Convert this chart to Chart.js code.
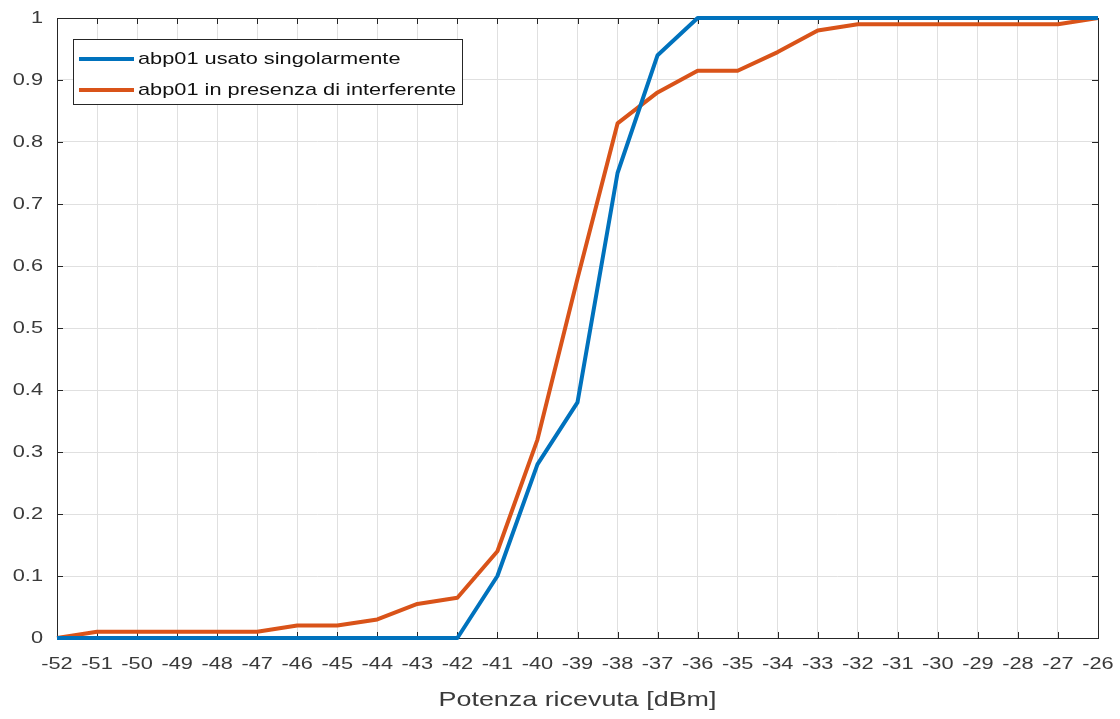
<!DOCTYPE html>
<html>
<head>
<meta charset="utf-8">
<script src="https://cdn.jsdelivr.net/npm/chart.js@4/dist/chart.umd.min.js"></script>
<style>
    html, body { margin: 0; padding: 0; background: #fff; }
    #wrap { width: 1120px; height: 719px; }
</style>
</head>
<body>
<div id="wrap"><canvas id="myChart" width="1120" height="719"></canvas></div>
<script>
// Potenza ricevuta (dBm)
var potenza = [-52, -51, -50, -49, -48, -47, -46, -45, -44, -43, -42, -41, -40,
    -39, -38, -37, -36, -35, -34, -33, -32, -31, -30, -29, -28, -27, -26];

// abp01 usato singolarmente
var singolo = [0, 0, 0, 0, 0, 0, 0, 0, 0, 0, 0, 0.1, 0.28,
    0.38, 0.75, 0.94, 1, 1, 1, 1, 1, 1, 1, 1, 1, 1, 1];

// abp01 in presenza di interferente
var interferente = [0, 0.01, 0.01, 0.01, 0.01, 0.01, 0.02, 0.02, 0.03, 0.055, 0.065, 0.14, 0.32,
    0.58, 0.83, 0.88, 0.915, 0.915, 0.945, 0.98, 0.99, 0.99, 0.99, 0.99, 0.99, 0.99, 1];

var nomi = ['abp01 usato singolarmente', 'abp01 in presenza di interferente'];
var colori = ['#0072BD', '#D95319'];

var FONT = '"Liberation Sans", Arial, sans-serif';
var TESTO = '#3a3a3a';
var LARGO = 1.28; // testo allargato in orizzontale

function punti(ys) {
    return potenza.map(function (x, i) { return { x: x, y: ys[i] }; });
}

// riquadro degli assi con tacche verso l'interno (stile MATLAB)
var riquadro = {
    id: 'riquadro',
    beforeDatasetsDraw: function (chart) {
        var a = chart.chartArea, ctx = chart.ctx;
        var sx = chart.scales.x, sy = chart.scales.y;
        ctx.save();
        ctx.strokeStyle = '#262626';
        ctx.lineWidth = 1;
        ctx.beginPath();
        sx.ticks.forEach(function (t) {
            var px = Math.round(sx.getPixelForValue(t.value)) + 0.5;
            ctx.moveTo(px, a.bottom); ctx.lineTo(px, a.bottom - 6);
            ctx.moveTo(px, a.top); ctx.lineTo(px, a.top + 6);
        });
        sy.ticks.forEach(function (t) {
            var py = Math.round(sy.getPixelForValue(t.value)) + 0.5;
            ctx.moveTo(a.left, py); ctx.lineTo(a.left + 6, py);
            ctx.moveTo(a.right, py); ctx.lineTo(a.right - 6, py);
        });
        ctx.stroke();
        ctx.strokeRect(Math.round(a.left) + 0.5, Math.round(a.top) + 0.5,
            Math.round(a.right - a.left), Math.round(a.bottom - a.top));
        ctx.restore();
    },
    afterDatasetsDraw: function (chart) {
        // legenda dentro il grafico, in alto a sinistra
        var a = chart.chartArea, ctx = chart.ctx;
        var x0 = a.left + 16, y0 = a.top + 21, w = 389, h = 65;
        ctx.save();
        ctx.fillStyle = '#fff';
        ctx.fillRect(x0, y0, w, h);
        ctx.strokeStyle = '#262626';
        ctx.lineWidth = 1;
        ctx.strokeRect(x0 + 0.5, y0 + 0.5, w, h);
        ctx.font = '17px ' + FONT;
        ctx.textAlign = 'left';
        ctx.textBaseline = 'middle';
        chart.data.datasets.forEach(function (ds, i) {
            var yy = y0 + 20 + i * 31;
            ctx.strokeStyle = ds.borderColor;
            ctx.lineWidth = 4;
            ctx.beginPath();
            ctx.moveTo(x0 + 6, yy);
            ctx.lineTo(x0 + 61, yy);
            ctx.stroke();
            ctx.fillStyle = '#111';
            ctx.fillText(ds.label, x0 + 65, yy);
        });
        ctx.restore();
    }
};

var ctx = document.getElementById('myChart').getContext('2d');

// tutte le scritte un po' più larghe, ancorate al punto di allineamento
var fillTextOrig = ctx.fillText;
ctx.fillText = function (t, x, y) {
    this.save();
    this.translate(x, y);
    this.scale(LARGO, 1);
    fillTextOrig.call(this, t, 0, 0);
    this.restore();
};

new Chart(ctx, {
    type: 'line',
    data: {
        datasets: [
            { label: nomi[0], data: punti(singolo), borderColor: colori[0] },
            { label: nomi[1], data: punti(interferente), borderColor: colori[1] }
        ]
    },
    options: {
        responsive: false,
        animation: false,
        layout: { padding: { top: 18, right: 22, left: 0, bottom: 0 } },
        elements: {
            line: { borderWidth: 4, tension: 0, fill: false, borderJoinStyle: 'round' },
            point: { radius: 0 }
        },
        datasets: { line: { clip: false } },
        plugins: {
            legend: { display: false },
            tooltip: { enabled: false }
        },
        scales: {
            x: {
                type: 'linear',
                min: -52,
                max: -26,
                ticks: {
                    stepSize: 1,
                    padding: 16,
                    color: TESTO,
                    font: { family: FONT, size: 17 }
                },
                grid: { color: '#e0e0e0', lineWidth: 1, drawTicks: false },
                border: { display: false },
                title: {
                    display: true,
                    text: 'Potenza ricevuta [dBm]',
                    color: TESTO,
                    font: { family: FONT, size: 21 },
                    padding: { top: 12, bottom: 6 }
                },
                afterFit: function (s) {
                    s.height = 81;
                    s.paddingLeft = 0;
                    s.paddingRight = 0;
                }
            },
            y: {
                min: 0,
                max: 1,
                ticks: {
                    stepSize: 0.1,
                    padding: 14,
                    color: TESTO,
                    font: { family: FONT, size: 17 },
                    callback: function (v) { return String(+v.toFixed(1)); }
                },
                grid: { color: '#e0e0e0', lineWidth: 1, drawTicks: false },
                border: { display: false },
                afterFit: function (s) {
                    s.width = 57;
                    s.paddingTop = 0;
                    s.paddingBottom = 0;
                }
            }
        }
    },
    plugins: [riquadro]
});
</script>
</body>
</html>
